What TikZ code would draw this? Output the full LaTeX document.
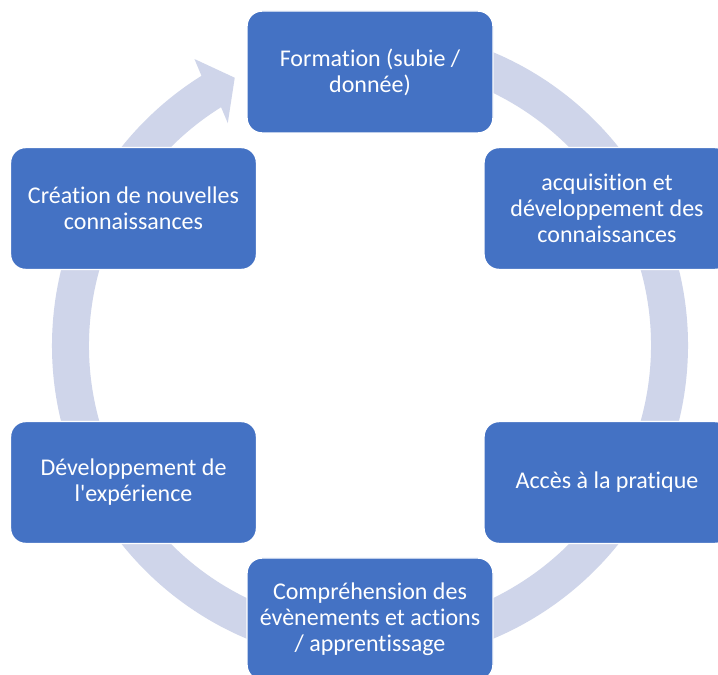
\documentclass[tikz,border=0pt]{standalone}
\usepackage{fontspec}
\setmainfont{Carlito}[Ligatures={NoCommon,TeXOff}]
\usetikzlibrary{calc}
\definecolor{boxblue}{HTML}{4472C4}
\definecolor{ringcol}{HTML}{CFD5EA}
\tikzset{
  stagebox/.style={draw=white, line width=1.1pt, fill=boxblue, rounded corners=11.25pt,
    minimum width=184.5pt, minimum height=91.5pt, text=white, align=center,
    inner sep=4pt, font=\fontsize{18}{19.5}\selectfont},
  ringfill/.style={fill=ringcol, draw=none}
}
\begin{document}
\begin{tikzpicture}[x=0.75pt,y=0.75pt]
\clip (0,0) rectangle (718,675);
\fill[white] (0,0) rectangle (718,675);
\coordinate (C) at (370,329.5);
% circular arrow
\fill[ringfill] ($(C)+(85:318)$) arc[start angle=85, end angle=-238, radius=318]
  -- ($(C)+(121.5:336)$) -- ($(C)+(116.8:300)$) -- ($(C)+(122.6:264)$)
  -- ($(C)+(122:281)$) arc[start angle=-238, end angle=85, radius=281] -- cycle;
% boxes
\node[stagebox] (form) at (370,603) {Formation (subie /\\donnée)};
\node[stagebox] (acq) at (607,466.5) {acquisition et\\développement des\\connaissances};
\node[stagebox] (acces) at (607,192.5) {Accès à la pratique};
\node[stagebox] (comp) at (370,56) {Compréhension des\\évènements et actions\\/ apprentissage};
\node[stagebox] (dev) at (133.5,192.5) {Développement de\\l'expérience};
\node[stagebox] (crea) at (133.5,466.5) {Création de nouvelles\\connaissances};
\end{tikzpicture}
\end{document}
